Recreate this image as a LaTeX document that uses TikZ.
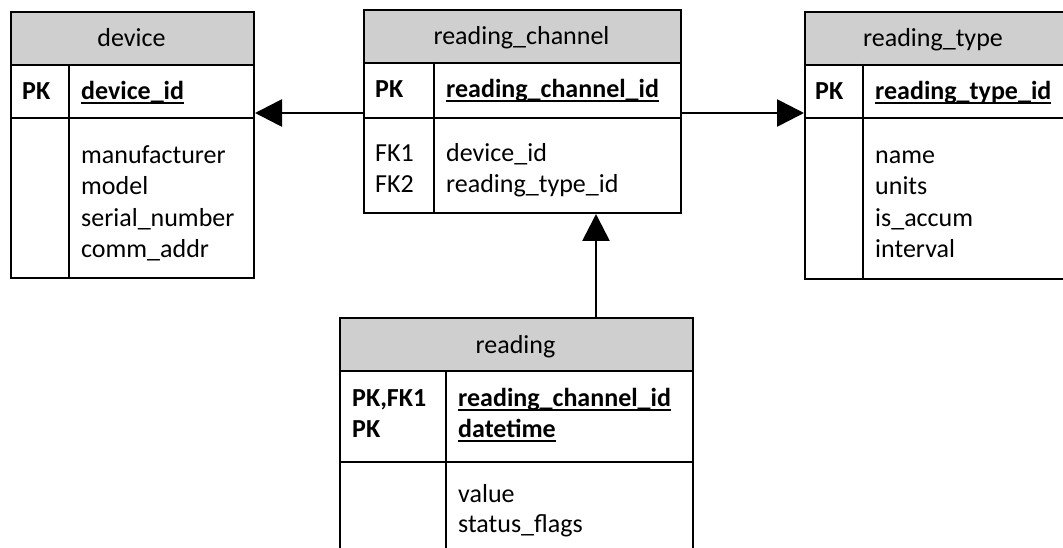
\documentclass[tikz,border=0pt]{standalone}
\usepackage{fontspec}
\setmainfont{Carlito}
\usetikzlibrary{arrows.meta}
\definecolor{hdrgray}{RGB}{207,207,207}
\newsavebox\pkbox
\newcommand\pkul[1]{\sbox\pkbox{#1}\rlap{\rule[-4.5pt]{\wd\pkbox}{2pt}}\usebox\pkbox}
\begin{document}
\begin{tikzpicture}[x=1pt,y=-1pt,
  font=\fontsize{26}{31}\selectfont,
  tblbox/.style={draw, line width=2pt, anchor=north west, inner sep=0pt, outer sep=1pt},
  hdrbox/.style={draw, fill=hdrgray, line width=2pt, anchor=north west, inner sep=0pt, outer sep=1pt},
  tline/.style={line width=2pt},
  txt/.style={anchor=base west, inner sep=0pt},
  ttl/.style={anchor=base, inner sep=0pt},
  conn/.style={line width=2.7pt, -{Triangle[length=27pt,width=27pt]}}]
\clip (0,0) rectangle (1063,548);
% ---------- device ----------
\node[tblbox, minimum width=243pt, minimum height=266pt] (dev) at (10,11) {};
\node[hdrbox, minimum width=243pt, minimum height=53pt] (devh) at (10,11) {};
\node[ttl] (devt) at (131.5,47) {device};
\draw[tline] (10,118) -- (253,118);
\draw[tline] (69,64) -- (69,277);
\node[txt] (devpk) at (22,100) {\bfseries PK};
\node[txt] (devid) at (81,100) {\bfseries\pkul{device\_id}};
\node[txt] (devf1) at (81,164) {manufacturer};
\node[txt] (devf2) at (81,195) {model};
\node[txt] (devf3) at (81,227) {serial\_number};
\node[txt] (devf4) at (81,258) {comm\_addr};
% ---------- reading_channel ----------
\node[tblbox, minimum width=317pt, minimum height=203pt] (rc) at (363,9) {};
\node[hdrbox, minimum width=317pt, minimum height=53pt] (rch) at (363,9) {};
\node[ttl] (rct) at (521.5,45) {reading\_channel};
\draw[tline] (363,118) -- (680,118);
\draw[tline] (434,62) -- (434,212);
\node[txt] (rcpk) at (375,98) {\bfseries PK};
\node[txt] (rcid) at (446,98) {\bfseries\pkul{reading\_channel\_id}};
\node[txt] (rcfk1) at (375,162) {FK1};
\node[txt] (rcfk2) at (375,193) {FK2};
\node[txt] (rcf1) at (446,162) {device\_id};
\node[txt] (rcf2) at (446,193) {reading\_type\_id};
% ---------- reading_type (right edge lies beyond the picture) ----------
\node[tblbox, minimum width=260pt, minimum height=267pt] (rt) at (804,11) {};
\node[hdrbox, minimum width=260pt, minimum height=53pt] (rth) at (804,11) {};
\node[ttl] (rtt) at (933,47) {reading\_type};
\draw[tline] (804,118) -- (1064,118);
\draw[tline] (863,64) -- (863,278);
\node[txt] (rtpk) at (815,100) {\bfseries PK};
\node[txt] (rtid) at (875,100) {\bfseries\pkul{reading\_type\_id}};
\node[txt] (rtf1) at (875,164) {name};
\node[txt] (rtf2) at (875,195) {units};
\node[txt] (rtf3) at (875,227) {is\_accum};
\node[txt] (rtf4) at (875,258) {interval};
% ---------- reading (bottom lies beyond the picture) ----------
\node[tblbox, minimum width=353pt, minimum height=260pt] (rd) at (339,317) {};
\node[hdrbox, minimum width=353pt, minimum height=53pt] (rdh) at (339,317) {};
\node[ttl] (rdt) at (515.5,353) {reading};
\draw[tline] (339,462) -- (692,462);
\draw[tline] (446,370) -- (446,560);
\node[txt] (rdpk1) at (352,406) {\bfseries PK,FK1};
\node[txt] (rdpk2) at (352,437) {\bfseries PK};
\node[txt] (rdid1) at (458,406) {\bfseries\pkul{reading\_channel\_id}};
\node[txt] (rdid2) at (458,437) {\bfseries\pkul{datetime}};
\node[txt] (rdf1) at (458,502) {value};
\node[txt] (rdf2) at (458,532) {status\_flags};
% ---------- connectors ----------
\coordinate (ay) at (0,113);
\coordinate (vx) at (596,0);
\draw[conn] (rc.west |- ay) -- (dev.east |- ay);
\draw[conn] (rc.east |- ay) -- (rt.west |- ay);
\draw[conn] (rdh.north -| vx) -- (rc.south -| vx);
\end{tikzpicture}
\end{document}
